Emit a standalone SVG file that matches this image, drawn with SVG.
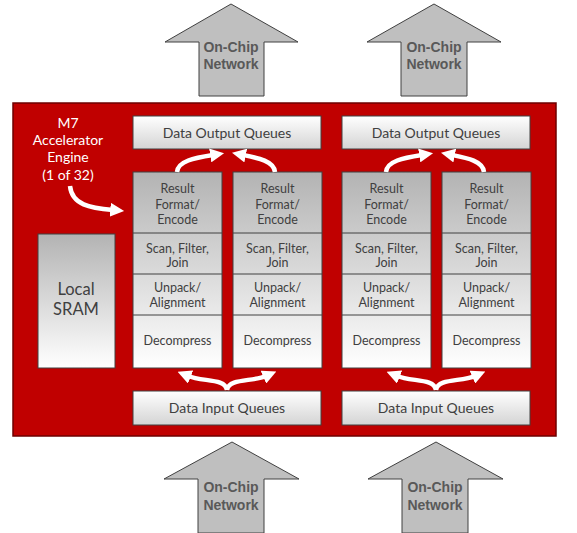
<svg xmlns="http://www.w3.org/2000/svg" width="577" height="533" viewBox="0 0 577 533">
<defs>
<linearGradient id="colg" x1="0" y1="0" x2="0" y2="1">
<stop offset="0" stop-color="#b3b3b3"/>
<stop offset="1" stop-color="#ffffff"/>
</linearGradient>
<linearGradient id="qg" x1="0" y1="0" x2="0" y2="1">
<stop offset="0" stop-color="#ffffff"/>
<stop offset="1" stop-color="#d4d4d4"/>
</linearGradient>
<marker id="ah" viewBox="0 0 10 10" refX="2" refY="5" markerWidth="14" markerHeight="14" markerUnits="userSpaceOnUse" orient="auto">
<path d="M0,0 L10,5 L0,10 Z" fill="#ffffff"/>
</marker>
<style>
.net{fill:#bfbfbf;stroke:#404040;stroke-width:1}
.nett{font-family:"Liberation Sans",Arial,sans-serif;font-weight:bold;font-size:14px;fill:#595959;text-anchor:middle}
.q{fill:url(#qg);stroke:#404040;stroke-width:1}
.qt{font-family:Lato,"Liberation Sans",sans-serif;font-size:14px;fill:#404040;text-anchor:middle}
.col{fill:url(#colg);stroke:#404040;stroke-width:1}
.div{stroke:#404040;stroke-width:1}
.ct{font-family:Lato,"Liberation Sans",sans-serif;font-size:12.5px;fill:#404040;text-anchor:middle}
.wt{font-family:Lato,"Liberation Sans",sans-serif;font-size:14px;fill:#ffffff;text-anchor:middle}
.st{font-family:Lato,"Liberation Sans",sans-serif;font-size:16.5px;fill:#404040;text-anchor:middle}
.arr{fill:none;stroke:#ffffff;stroke-width:4.5;marker-end:url(#ah)}
</style>
</defs>
<rect x="0" y="0" width="577" height="533" fill="#ffffff"/>

<g id="net-top-left">
<path class="net" d="M231,4 L298,42 L264,42 L264,96 L199,96 L199,42 L165,42 Z"/>
<text class="nett" x="231" y="52">On-Chip</text>
<text class="nett" x="231" y="69">Network</text>
</g>
<g id="net-top-right">
<path class="net" d="M434,4 L501,42 L467,42 L467,96 L401,96 L401,42 L367,42 Z"/>
<text class="nett" x="434" y="52">On-Chip</text>
<text class="nett" x="434" y="69">Network</text>
</g>

<g id="engine">
<rect x="13" y="103" width="543" height="333" fill="#c00000" stroke="#6e0000" stroke-width="1.5"/>
<text class="wt" x="68" y="128">M7</text>
<text class="wt" x="68" y="145">Accelerator</text>
<text class="wt" x="68" y="162">Engine</text>
<text class="wt" x="68" y="180">(1 of 32)</text>
</g>

<g id="sram">
<rect class="col" x="38" y="234" width="77" height="134"/>
<text class="st" x="76" y="295">Local</text>
<text class="st" x="76" y="315">SRAM</text>
</g>

<g id="doq-left">
<rect class="q" x="133" y="116" width="188" height="33"/>
<text class="qt" x="227" y="138">Data Output Queues</text>
</g>
<g id="doq-right">
<rect class="q" x="342" y="116" width="188" height="33"/>
<text class="qt" x="436" y="138">Data Output Queues</text>
</g>
<g id="diq-left">
<rect class="q" x="133" y="391" width="188" height="34"/>
<text class="qt" x="227" y="413">Data Input Queues</text>
</g>
<g id="diq-right">
<rect class="q" x="342" y="391" width="188" height="34"/>
<text class="qt" x="436" y="413">Data Input Queues</text>
</g>

<g id="col1">
<rect class="col" x="133" y="172" width="89" height="196"/>
<line class="div" x1="133" y1="233" x2="222" y2="233"/>
<line class="div" x1="133" y1="274" x2="222" y2="274"/>
<line class="div" x1="133" y1="315" x2="222" y2="315"/>
<text class="ct" x="177.5" y="193">Result</text>
<text class="ct" x="177.5" y="209">Format/</text>
<text class="ct" x="177.5" y="224">Encode</text>
<text class="ct" x="177.5" y="253">Scan, Filter,</text>
<text class="ct" x="177.5" y="267">Join</text>
<text class="ct" x="177.5" y="292">Unpack/</text>
<text class="ct" x="177.5" y="307">Alignment</text>
<text class="ct" x="177.5" y="345">Decompress</text>
</g>
<g id="col2">
<rect class="col" x="233" y="172" width="89" height="196"/>
<line class="div" x1="233" y1="233" x2="322" y2="233"/>
<line class="div" x1="233" y1="274" x2="322" y2="274"/>
<line class="div" x1="233" y1="315" x2="322" y2="315"/>
<text class="ct" x="277.5" y="193">Result</text>
<text class="ct" x="277.5" y="209">Format/</text>
<text class="ct" x="277.5" y="224">Encode</text>
<text class="ct" x="277.5" y="253">Scan, Filter,</text>
<text class="ct" x="277.5" y="267">Join</text>
<text class="ct" x="277.5" y="292">Unpack/</text>
<text class="ct" x="277.5" y="307">Alignment</text>
<text class="ct" x="277.5" y="345">Decompress</text>
</g>
<g id="col3">
<rect class="col" x="342" y="172" width="89" height="196"/>
<line class="div" x1="342" y1="233" x2="431" y2="233"/>
<line class="div" x1="342" y1="274" x2="431" y2="274"/>
<line class="div" x1="342" y1="315" x2="431" y2="315"/>
<text class="ct" x="386.5" y="193">Result</text>
<text class="ct" x="386.5" y="209">Format/</text>
<text class="ct" x="386.5" y="224">Encode</text>
<text class="ct" x="386.5" y="253">Scan, Filter,</text>
<text class="ct" x="386.5" y="267">Join</text>
<text class="ct" x="386.5" y="292">Unpack/</text>
<text class="ct" x="386.5" y="307">Alignment</text>
<text class="ct" x="386.5" y="345">Decompress</text>
</g>
<g id="col4">
<rect class="col" x="442" y="172" width="89" height="196"/>
<line class="div" x1="442" y1="233" x2="531" y2="233"/>
<line class="div" x1="442" y1="274" x2="531" y2="274"/>
<line class="div" x1="442" y1="315" x2="531" y2="315"/>
<text class="ct" x="486.5" y="193">Result</text>
<text class="ct" x="486.5" y="209">Format/</text>
<text class="ct" x="486.5" y="224">Encode</text>
<text class="ct" x="486.5" y="253">Scan, Filter,</text>
<text class="ct" x="486.5" y="267">Join</text>
<text class="ct" x="486.5" y="292">Unpack/</text>
<text class="ct" x="486.5" y="307">Alignment</text>
<text class="ct" x="486.5" y="345">Decompress</text>
</g>

<g id="net-bottom-left">
<path class="net" d="M232,442 L299,479 L264,479 L264,533 L198,533 L198,479 L164,479 Z"/>
<text class="nett" x="231" y="492">On-Chip</text>
<text class="nett" x="231" y="510">Network</text>
</g>
<g id="net-bottom-right">
<path class="net" d="M436,442 L503,479 L468,479 L468,533 L402,533 L402,479 L368,479 Z"/>
<text class="nett" x="435" y="492">On-Chip</text>
<text class="nett" x="435" y="510">Network</text>
</g>

<g id="connectors">
<path class="arr" d="M177,172 C178,161 194,158 213,155"/>
<path class="arr" d="M275,172 C274,161 258,158 243,155"/>
<path class="arr" d="M386,172 C387,161 403,158 422,155"/>
<path class="arr" d="M484,172 C483,161 467,158 452,155"/>
<path class="arr" d="M227,390 C225,378 203,382 188,376"/>
<path class="arr" d="M227,390 C229,378 252,382 266,376"/>
<path class="arr" d="M436,390 C434,378 412,382 397,376"/>
<path class="arr" d="M436,390 C438,378 461,382 475,376"/>
<path class="arr" d="M70,186 C72,205 90,208 113,210"/>
</g>
</svg>
